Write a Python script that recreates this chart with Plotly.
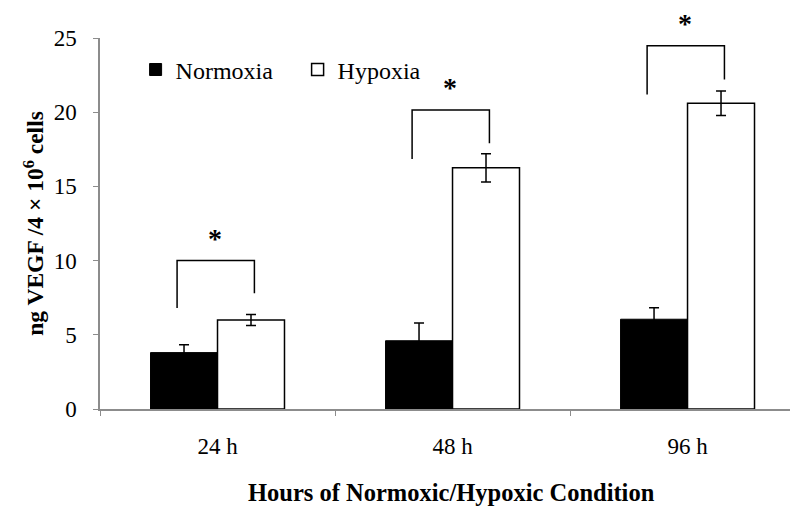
import plotly.graph_objects as go

categories = ["24 h", "48 h", "96 h"]
normoxia = [3.8, 4.6, 6.05]
normoxia_err = [0.53, 1.2, 0.77]
hypoxia = [6.0, 16.25, 20.6]
hypoxia_err = [0.37, 0.95, 0.83]
y_ticks = [0, 5, 10, 15, 20, 25]

# significance brackets (value levels)
bracket_top = [10.0, 20.15, 24.48]
bracket_left = [6.8, 16.85, 21.2]
bracket_right = [7.8, 17.9, 22.2]

FONT = "Liberation Serif, Times New Roman, serif"

fig = go.Figure()
fig.add_trace(go.Bar(
    name="Normoxia", x=categories, y=normoxia,
    marker=dict(color="black", line=dict(color="black", width=1)),
    error_y=dict(type="data", array=normoxia_err, color="black", thickness=1.5, width=5),
))
fig.add_trace(go.Bar(
    name="Hypoxia", x=categories, y=hypoxia,
    marker=dict(color="white", line=dict(color="black", width=1.5)),
    error_y=dict(type="data", array=hypoxia_err, color="black", thickness=1.5, width=5),
))

shapes = []
annotations = []
for i in range(len(categories)):
    xl, xr = i - 0.172, i + 0.157
    shapes.append(dict(type="path", xref="x", yref="y",
                       path=f"M {xl},{bracket_left[i]} L {xl},{bracket_top[i]} L {xr},{bracket_top[i]} L {xr},{bracket_right[i]}",
                       line=dict(color="black", width=1.5)))
    annotations.append(dict(x=i - 0.01, y=bracket_top[i], xref="x", yref="y",
                            text="<b>*</b>", showarrow=False, yanchor="bottom",
                            yshift=5, font=dict(family=FONT, size=28, color="black")))

annotations.append(dict(x=0.51, y=-0.226, xref="paper", yref="paper",
                        text="<b>Hours of Normoxic/Hypoxic Condition</b>",
                        showarrow=False, yanchor="middle",
                        font=dict(family=FONT, size=24.5, color="black")))

fig.update_layout(
    width=796, height=508,
    margin=dict(l=100, r=6, t=38, b=99),
    plot_bgcolor="white", paper_bgcolor="white",
    barmode="group", bargap=0.43, bargroupgap=0,
    font=dict(family=FONT, size=22, color="black"),
    shapes=shapes, annotations=annotations,
    showlegend=True,
    legend=dict(orientation="h", x=0.0516, y=0.914, xanchor="left", yanchor="middle",
                font=dict(family=FONT, size=24, color="black"),
                bgcolor="rgba(0,0,0,0)", entrywidth=117, entrywidthmode="pixels",
                itemclick=False),
    xaxis=dict(type="category", range=[-0.5, 2.436], showline=True, linecolor="#8c8c8c",
               linewidth=1.5, ticks="outside", tickson="boundaries", ticklen=5,
               tickcolor="#8c8c8c", showgrid=False, zeroline=False, ticklabelstandoff=16,
               tickfont=dict(family=FONT, size=23, color="black")),
    yaxis=dict(range=[0, 25], tickvals=y_ticks, showline=True, linecolor="#8c8c8c",
               linewidth=1.5, ticks="outside", ticklen=5, tickcolor="#8c8c8c",
               showgrid=False, zeroline=False, ticklabelstandoff=12,
               tickfont=dict(family=FONT, size=23, color="black"),
               title=dict(text="<b>ng VEGF /4 × 10<sup>6</sup> cells</b>",
                          font=dict(family=FONT, size=23.5, color="black"), standoff=3)),
)

fig.write_html("out.html", config={"displayModeBar": False},
               post_script="document.body.style.margin='0px';")
